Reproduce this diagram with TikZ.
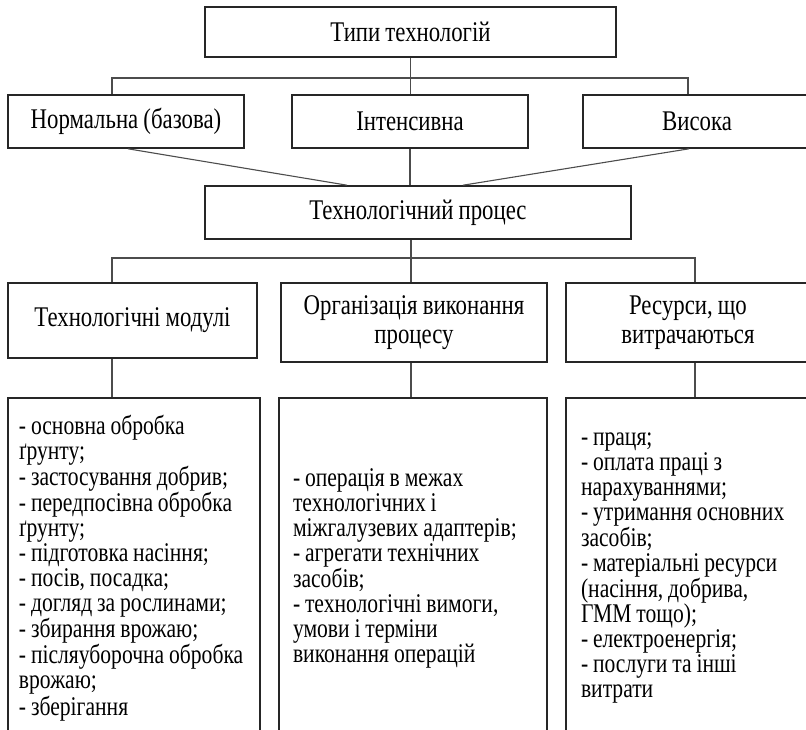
\documentclass[tikz,border=0pt]{standalone}
\usepackage{fontspec}
\setmainfont[FakeStretch=0.8,WordSpace=0.9]{Liberation Serif}

\begin{document}
\begin{tikzpicture}[%%
  x=1pt,y=-1pt,%%
  lineStyle/.style={-,line width=1.1pt,draw=black!70},%%
  boxStyle/.style={rectangle,draw=black!85,line width=1.6pt,inner sep=0pt,%%
    align=center,font=\fontsize{28.5}{29}\selectfont},%%
  listStyle/.style={boxStyle,align=flush left,text width=#1,minimum height=340pt,%%
    font=\fontsize{27}{25}\selectfont}%%
]
%%
%% Page of the scheme.
\useasboundingbox (0,0) rectangle (806,729);
\clip (0,0) rectangle (806,729);
%%
\coordinate (Types) at (410.5,32);
\coordinate (Normal) at (126,121.5);
\coordinate (Intensive) at (410,121.5);
\coordinate (High) at (697,121.5);
\coordinate (Process) at (418,212.5);
\coordinate (Modules) at (132.5,320.5);
\coordinate (Organisation) at (414,322.5);
\coordinate (Resources) at (688,322.5);
\coordinate (ModList) at (134,568);
\coordinate (OrgList) at (413,568);
\coordinate (ResList) at (688,568);
%% Bus lines.
\coordinate (BusOneL) at (112,78);
\coordinate (BusOneR) at (688,78);
\coordinate (BusTwoL) at (112,258);
\coordinate (BusTwoM) at (411,258);
\coordinate (BusTwoR) at (695,258);
%%
%%
%% Boxes of the scheme.
\node (TT) at (Types) [boxStyle,minimum width=411pt,minimum height=50pt] {Типи технологій};
\node (NT) at (Normal) [boxStyle,minimum width=236pt,minimum height=53pt] {Нормальна (базова)};
\node (IT) at (Intensive) [boxStyle,minimum width=236pt,minimum height=53pt] {Інтенсивна};
\node (VT) at (High) [boxStyle,minimum width=228pt,minimum height=53pt] {Висока};
\node (TP) at (Process) [boxStyle,minimum width=426pt,minimum height=53pt] {Технологічний процес};
\node (TM) at (Modules) [boxStyle,minimum width=249pt,minimum height=75pt] {Технологічні модулі};
\node (OR) at (Organisation) [boxStyle,minimum width=266pt,minimum height=79pt]
  {Організація виконання\\процесу};
\node (RS) at (Resources) [boxStyle,minimum width=244pt,minimum height=79pt]
  {Ресурси, що\\витрачаються};
%% Lists.
\node (ML) at (ModList) [listStyle=230pt,inner xsep=11pt] {%%
  - основна обробка\\ ґрунту;\\ - застосування добрив;\\ - передпосівна обробка\\ ґрунту;\\
  - підготовка насіння;\\ - посів, посадка;\\ - догляд за рослинами;\\ - збирання врожаю;\\
  - післяуборочна обробка\\ врожаю;\\ - зберігання};
\node (OL) at (OrgList) [listStyle=240pt,inner xsep=14pt] {%%
  - операція в межах\\ технологічних і\\ міжгалузевих адаптерів;\\ - агрегати технічних\\
  засобів;\\ - технологічні вимоги,\\ умови і терміни\\ виконання операцій};
\node (RL) at (ResList) [listStyle=214pt,inner xsep=15pt] {%%
  - праця;\\ - оплата праці з\\ нарахуваннями;\\ - утримання основних\\ засобів;\\
  - матеріальні ресурси\\ (насіння, добрива,\\ ГММ тощо);\\ - електроенергія;\\
  - послуги та інші\\ витрати};
%%
%% Lines between the boxes.
\draw[lineStyle] (TT.south) -- (TT.south |- IT.north);
\draw[lineStyle] (NT.north -| BusOneL) -- (BusOneL) -- (BusOneR) -- (VT.north -| BusOneR);
\draw[lineStyle] ([xshift=2pt]NT.south) -- ([xshift=-71pt]TP.north);
\draw[lineStyle] (IT.south) -- (IT.south |- TP.north);
\draw[lineStyle] ([xshift=-8pt]VT.south) -- ([xshift=45pt]TP.north);
\draw[lineStyle] (TP.south -| BusTwoM) -- (BusTwoM) -- (OR.north -| BusTwoM);
\draw[lineStyle] (TM.north -| BusTwoL) -- (BusTwoL) -- (BusTwoR) -- (RS.north -| BusTwoR);
\draw[lineStyle] (TM.south -| BusTwoL) -- (ML.north -| BusTwoL);
\draw[lineStyle] (OR.south -| BusTwoM) -- (OL.north -| BusTwoM);
\draw[lineStyle] (RS.south -| BusTwoR) -- (RL.north -| BusTwoR);
\end{tikzpicture}
\end{document}
